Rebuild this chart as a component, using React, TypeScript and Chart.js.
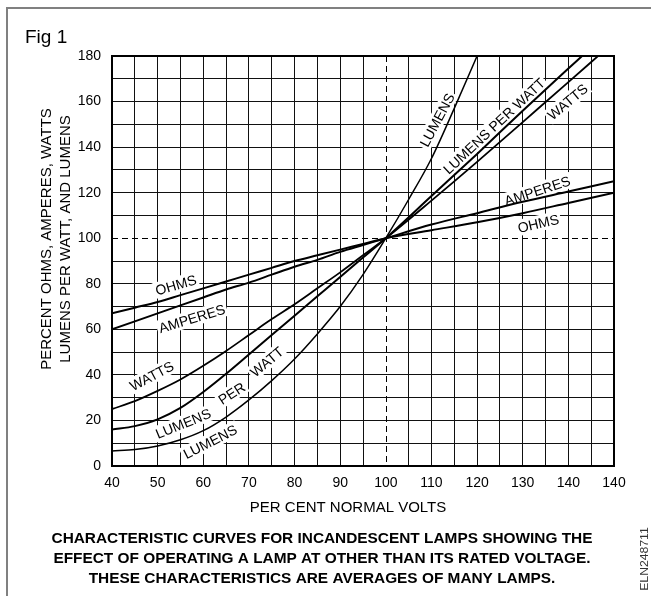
import React, { useEffect, useRef } from 'react';
import { Chart, registerables } from 'chart.js';

Chart.register(...registerables);

// ---- tick labels (the original repeats "140" at the right end) ----
const X_TICK_LABELS = ['40', '50', '60', '70', '80', '90', '100', '110', '120', '130', '140', '140'];
const Y_TICK_LABELS = ['0', '20', '40', '60', '80', '100', '120', '140', '160', '180'];

// ---- series: per cent normal volts -> per cent value ----
const OHMS_VOLTS = [40, 45, 50, 55, 60, 65, 70, 75, 80, 85, 90, 95, 100, 110, 120, 130, 140, 150];
const OHMS = [67, 69.5, 72, 75, 78, 81, 84, 87, 90, 92.5, 95, 97.5, 100, 103.5, 107, 111, 115.5, 120];

const AMPERES_VOLTS = [40, 45, 50, 55, 60, 65, 70, 75, 80, 85, 90, 95, 100, 110, 120, 130, 140, 150];
const AMPERES = [60, 63.5, 67, 70.5, 74, 77.5, 80.5, 84, 87.5, 90.5, 94, 97, 100, 106, 111, 116, 120.5, 125];

const WATTS_VOLTS = [40, 45, 50, 55, 60, 65, 70, 75, 80, 85, 90, 95, 100, 110, 120, 130, 140, 146.5];
const WATTS = [25, 28.5, 33, 38, 44, 50.5, 57.5, 64.5, 71, 78, 85, 92.5, 100, 116.5, 133.5, 151, 168.5, 180];

const LPW_VOLTS = [40, 45, 50, 55, 60, 65, 70, 75, 80, 85, 90, 95, 100, 110, 120, 130, 140, 143];
const LUMENS_PER_WATT = [16, 17.5, 20.5, 25.5, 32.5, 40.5, 49, 57.5, 66, 74.5, 83, 91.5, 100, 118.5, 137, 156, 174.5, 180];

const LUMENS_VOLTS = [40, 45, 50, 55, 60, 65, 70, 75, 80, 85, 90, 95, 100, 105, 110, 115, 120];
const LUMENS = [6.6, 7.2, 8.8, 11.5, 15.5, 21.5, 29, 37.5, 47, 58, 70, 84, 100, 117, 135, 157, 180];

// ---- in-chart curve labels (data coordinates, rotation in degrees) ----
const CURVE_LABEL_TEXT = ['OHMS', 'AMPERES', 'WATTS', 'LUMENS', 'PER', 'WATT', 'LUMENS', 'LUMENS', 'LUMENS PER WATT', 'WATTS', 'AMPERES', 'OHMS'];
const CURVE_LABEL_X = [54, 57.5, 48.7, 55.6, 66.2, 73.9, 61.5, 111.2, 123.7, 139.8, 133.2, 133.4];
const CURVE_LABEL_Y = [79.5, 64.8, 39.6, 18.7, 31.9, 45.8, 10.7, 151.9, 149.3, 159.9, 120.9, 106.5];
const CURVE_LABEL_ANGLE = [-16, -17, -28, -22, -33, -40, -27, -62, -43, -40, -18, -13];

const FIG_TITLE = 'Fig 1';
const Y_TITLE = ['PERCENT OHMS, AMPERES, WATTS', 'LUMENS PER WATT, AND LUMENS'];
const X_TITLE = 'PER CENT NORMAL VOLTS';
const CAPTION = [
  'CHARACTERISTIC CURVES FOR INCANDESCENT LAMPS SHOWING THE',
  'EFFECT OF OPERATING A LAMP AT OTHER THAN ITS RATED VOLTAGE.',
  'THESE CHARACTERISTICS ARE AVERAGES OF MANY LAMPS.',
];
const FIG_CODE = 'ELN248711';

const FONT = '"Liberation Sans", Arial, Helvetica, sans-serif';

function series(label: string, xs: number[], ys: number[], width: number) {
  return {
    label,
    data: xs.map((x, i) => ({ x, y: ys[i] })),
    borderColor: '#000',
    backgroundColor: '#000',
    borderWidth: width,
    pointRadius: 0,
    showLine: true,
    fill: false,
    cubicInterpolationMode: 'monotone' as const,
  };
}

const decorPlugin = {
  id: 'decor',
  beforeDatasetsDraw(chart: any) {
    const { ctx, chartArea, scales } = chart;
    const xs = scales.x;
    const ys = scales.y;
    ctx.save();
    // dashed reference lines at 100 %
    ctx.strokeStyle = '#000';
    ctx.lineWidth = 1;
    ctx.setLineDash([6, 4]);
    const px = Math.round(xs.getPixelForValue(100)) + 0.5;
    const py = Math.round(ys.getPixelForValue(100)) + 0.5;
    ctx.beginPath();
    ctx.moveTo(chartArea.left, py);
    ctx.lineTo(chartArea.right, py);
    ctx.moveTo(px, chartArea.top);
    ctx.lineTo(px, chartArea.bottom);
    ctx.stroke();
    ctx.setLineDash([]);
    // curve labels with white boxes hiding the grid
    ctx.font = `14px ${FONT}`;
    for (let i = 0; i < CURVE_LABEL_TEXT.length; i++) {
      const t = CURVE_LABEL_TEXT[i];
      const lx = xs.getPixelForValue(CURVE_LABEL_X[i]);
      const ly = ys.getPixelForValue(CURVE_LABEL_Y[i]);
      ctx.save();
      ctx.translate(lx, ly);
      ctx.rotate((CURVE_LABEL_ANGLE[i] * Math.PI) / 180);
      const w = ctx.measureText(t).width;
      ctx.fillStyle = '#fff';
      ctx.fillRect(-w / 2 - 2, -8, w + 4, 16);
      ctx.fillStyle = '#000';
      ctx.textAlign = 'center';
      ctx.textBaseline = 'alphabetic';
      ctx.fillText(t, 0, 5);
      ctx.restore();
    }
    ctx.restore();
  },
  afterDatasetsDraw(chart: any) {
    const { ctx, chartArea } = chart;
    ctx.save();
    ctx.strokeStyle = '#000';
    ctx.lineWidth = 2;
    ctx.strokeRect(chartArea.left, chartArea.top, chartArea.right - chartArea.left, chartArea.bottom - chartArea.top);
    ctx.restore();
  },
  afterDraw(chart: any) {
    const { ctx, width, height } = chart;
    ctx.save();
    // outer frame (left & top)
    ctx.strokeStyle = '#808080';
    ctx.lineWidth = 2;
    ctx.beginPath();
    ctx.moveTo(7, height);
    ctx.lineTo(7, 8);
    ctx.lineTo(width, 8);
    ctx.stroke();

    ctx.fillStyle = '#000';
    ctx.textBaseline = 'alphabetic';
    // Fig 1
    ctx.font = `19px ${FONT}`;
    ctx.textAlign = 'left';
    ctx.fillText(FIG_TITLE, 25, 43);

    // y title (two rotated lines)
    ctx.font = `15px ${FONT}`;
    ctx.textAlign = 'center';
    const yCenters = [50.9, 70];
    for (let i = 0; i < Y_TITLE.length; i++) {
      ctx.save();
      ctx.translate(yCenters[i], 239);
      ctx.rotate(-Math.PI / 2);
      ctx.fillText(Y_TITLE[i], 0, 0);
      ctx.restore();
    }
    // x title
    ctx.fillText(X_TITLE, 348, 512);

    // caption
    ctx.font = `bold 15.4px ${FONT}`;
    const base = [543, 563, 583];
    for (let i = 0; i < CAPTION.length; i++) ctx.fillText(CAPTION[i], 322, base[i]);

    // figure code
    ctx.fillStyle = '#333';
    ctx.font = `10px ${FONT}`;
    ctx.save();
    ctx.translate(648, 559);
    ctx.rotate(-Math.PI / 2);
    ctx.scale(1.22, 1);
    ctx.fillText(FIG_CODE, 0, 0);
    ctx.restore();
    ctx.restore();
  },
};

export default function App() {
  const ref = useRef<HTMLCanvasElement>(null);
  useEffect(() => {
    const gridColor = (c: any) => (c.tick && c.tick.value === 100 ? 'rgba(0,0,0,0)' : '#111');
    const chart = new Chart(ref.current as HTMLCanvasElement, {
      type: 'scatter',
      data: {
        datasets: [
          series('OHMS', OHMS_VOLTS, OHMS, 2),
          series('AMPERES', AMPERES_VOLTS, AMPERES, 2),
          series('WATTS', WATTS_VOLTS, WATTS, 1.8),
          series('LUMENS PER WATT', LPW_VOLTS, LUMENS_PER_WATT, 2),
          series('LUMENS', LUMENS_VOLTS, LUMENS, 1.5),
        ],
      },
      options: {
        responsive: false,
        animation: false,
        devicePixelRatio: 1,
        layout: { padding: { left: 0, top: 56, right: 37, bottom: 0 } },
        plugins: { legend: { display: false }, tooltip: { enabled: false } },
        scales: {
          x: {
            type: 'linear',
            min: 40,
            max: 150,
            afterFit: (s: any) => {
              s.height = 130;
            },
            border: { display: false },
            grid: { color: gridColor, lineWidth: 1, drawTicks: false },
            ticks: {
              stepSize: 5,
              autoSkip: false,
              maxRotation: 0,
              minRotation: 0,
              padding: 9,
              color: '#000',
              font: { family: FONT, size: 14 },
              callback: (v: any) => {
                const n = Number(v);
                return n % 10 === 0 ? X_TICK_LABELS[(n - 40) / 10] : '';
              },
            },
          },
          y: {
            type: 'linear',
            min: 0,
            max: 180,
            afterFit: (s: any) => {
              s.width = 112;
            },
            border: { display: false },
            grid: { color: gridColor, lineWidth: 1, drawTicks: false },
            ticks: {
              stepSize: 10,
              autoSkip: false,
              padding: 11,
              color: '#000',
              font: { family: FONT, size: 14 },
              callback: (v: any) => {
                const n = Number(v);
                return n % 20 === 0 ? Y_TICK_LABELS[n / 20] : '';
              },
            },
          },
        },
      } as any,
      plugins: [decorPlugin],
    });
    return () => chart.destroy();
  }, []);
  return (
    <div style={{ position: 'fixed', left: 0, top: 0, width: 651, height: 596, background: '#fff' }}>
      <canvas ref={ref} width={651} height={596} style={{ display: 'block', width: 651, height: 596 }} />
    </div>
  );
}
